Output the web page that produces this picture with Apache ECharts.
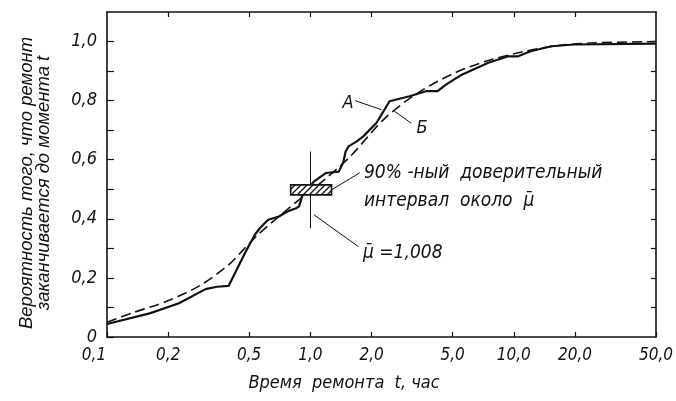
<!DOCTYPE html>
<html><head><meta charset="utf-8">
<script src="https://cdn.jsdelivr.net/npm/echarts@6/dist/echarts.min.js"></script>
<style>html,body{margin:0;padding:0;background:#fff}#c{width:676px;height:401px}</style>
</head><body><div id="c"></div><script>
// ---- data ----
const xTickValues = [0.1, 0.2, 0.5, 1, 2, 5, 10, 20, 50];
const xTickLabels = ['0,1', '0,2', '0,5', '1,0', '2,0', '5,0', '10,0', '20,0', '50,0'];
const yTickValues = [0, 0.2, 0.4, 0.6, 0.8, 1.0];
const yTickLabels = ['0', '0,2', '0,4', '0,6', '0,8', '1,0'];
const yMinorTicks = [0, 0.1, 0.2, 0.3, 0.4, 0.5, 0.6, 0.7, 0.8, 0.9, 1.0];

// curve A (empirical, solid)
const aTimes = [0.1, 0.162, 0.226, 0.305, 0.347, 0.396, 0.477, 0.533, 0.564, 0.62, 0.70, 0.77, 0.85, 0.88, 0.91, 1.04, 1.19, 1.38, 1.45, 1.49, 1.54, 1.69, 1.82, 2.11, 2.45, 3.07, 3.70, 4.22, 4.64, 5.55, 7.5, 9.4, 10.5, 12.1, 15.3, 19.8, 50];
const aProb  = [0.044, 0.080, 0.114, 0.162, 0.170, 0.173, 0.284, 0.346, 0.368, 0.397, 0.408, 0.425, 0.436, 0.442, 0.476, 0.526, 0.555, 0.560, 0.591, 0.628, 0.645, 0.662, 0.679, 0.724, 0.798, 0.815, 0.832, 0.832, 0.854, 0.888, 0.928, 0.950, 0.950, 0.967, 0.984, 0.990, 0.993];
// curve Б (fitted, dashed)
const bTimes = [0.1, 0.134, 0.195, 0.283, 0.396, 0.476, 0.552, 0.64, 0.86, 1.17, 1.57, 2.29, 3.30, 4.98, 7.27, 11.3, 16.4, 23.8, 50];
const bProb  = [0.050, 0.082, 0.120, 0.172, 0.244, 0.301, 0.346, 0.385, 0.459, 0.532, 0.611, 0.736, 0.822, 0.890, 0.933, 0.967, 0.986, 0.995, 1.0];

// annotations (data coordinates)
const muValue = 1.0;
const muLine = [0.368, 0.628];
const ciBox = [0.80, 1.27, 0.481, 0.515]; // t0, t1, p0, p1

const FONT = "'Liberation Sans Narrow','DejaVu Sans Condensed','Liberation Sans',sans-serif";
const FONTW = "'Liberation Sans','Arimo',sans-serif";
const ink = '#111';

function nearestLog(v, vals, labels) {
  let best = 0, bd = Infinity;
  vals.forEach((x, i) => { const d = Math.abs(Math.log(v / x)); if (d < bd) { bd = d; best = i; } });
  return labels[best];
}
function nearestLin(v, vals, labels) {
  let best = 0, bd = Infinity;
  vals.forEach((x, i) => { const d = Math.abs(v - x); if (d < bd) { bd = d; best = i; } });
  return labels[best];
}

// hatch pattern
const pc = document.createElement('canvas'); pc.width = 6; pc.height = 6;
const g = pc.getContext('2d');
g.fillStyle = '#fff'; g.fillRect(0, 0, 6, 6);
g.strokeStyle = ink; g.lineWidth = 1.3;
g.beginPath(); g.moveTo(0, 6); g.lineTo(6, 0); g.moveTo(-3, 3); g.lineTo(3, -3); g.moveTo(3, 9); g.lineTo(9, 3); g.stroke();

const chart = echarts.init(document.getElementById('c'), null, { renderer: 'canvas' });

const axisLineStyle = { color: ink, width: 1.6 };

chart.setOption({
  animation: false,
  backgroundColor: '#fff',
  grid: { left: 107, right: 15, top: 12, bottom: 64, containLabel: false },
  xAxis: [
    {
      type: 'log', logBase: 10, min: 0.1, max: 50, position: 'bottom',
      axisLine: { show: true, onZero: false, lineStyle: axisLineStyle },
      axisTick: { show: true, inside: true, length: 5, lineStyle: { color: ink, width: 1.2 }, customValues: xTickValues },
      minorTick: { show: false },
      splitLine: { show: false },
      axisLabel: {
        customValues: xTickValues, margin: 10, color: ink, fontFamily: FONT, fontStyle: 'italic', fontSize: 17,
        formatter: v => {
          const s = nearestLog(v, xTickValues, xTickLabels);
          return s === '0,1' ? '{f|' + s + '}' : s;
        },
        rich: { f: { fontFamily: FONT, fontStyle: 'italic', fontSize: 17, color: ink, padding: [0, 26, 0, 0] } }
      }
    },
    {
      type: 'log', logBase: 10, min: 0.1, max: 50, position: 'top',
      axisLine: { show: true, onZero: false, lineStyle: axisLineStyle },
      axisTick: { show: true, inside: true, length: 5, lineStyle: { color: ink, width: 1.2 }, customValues: xTickValues.slice(1, -1) },
      splitLine: { show: false },
      axisLabel: { show: false }
    }
  ],
  yAxis: [
    {
      type: 'value', min: 0, max: 1.1, position: 'left',
      axisLine: { show: true, onZero: false, lineStyle: axisLineStyle },
      axisTick: { show: true, inside: true, length: 7, lineStyle: { color: ink, width: 1.2 }, customValues: yMinorTicks },
      splitLine: { show: false },
      axisLabel: {
        customValues: yTickValues, margin: 10, color: ink, fontFamily: FONT, fontStyle: 'italic', fontSize: 18,
        formatter: v => nearestLin(v, yTickValues, yTickLabels)
      }
    },
    {
      type: 'value', min: 0, max: 1.1, position: 'right',
      axisLine: { show: true, onZero: false, lineStyle: axisLineStyle },
      axisTick: { show: true, inside: true, length: 5, lineStyle: { color: ink, width: 1.2 }, customValues: yMinorTicks.slice(1) },
      splitLine: { show: false },
      axisLabel: { show: false }
    }
  ],
  series: [
    {
      name: 'Б', type: 'line', xAxisIndex: 0, yAxisIndex: 0, symbol: 'none', smooth: 0.3,
      data: bTimes.map((t, i) => [t, bProb[i]]),
      lineStyle: { color: ink, width: 1.6, type: [10, 5] }, z: 3
    },
    {
      name: 'A', type: 'line', xAxisIndex: 0, yAxisIndex: 0, symbol: 'none',
      data: aTimes.map((t, i) => [t, aProb[i]]),
      lineStyle: { color: ink, width: 2.2 }, z: 4
    },
    {
      name: 'annot', type: 'line', xAxisIndex: 0, yAxisIndex: 0, symbol: 'none', data: [],
      markLine: {
        silent: true, symbol: 'none', animation: false,
        label: { show: false },
        lineStyle: { color: ink, width: 1, type: 'solid' },
        data: [
          [{ coord: [muValue, muLine[0]] }, { coord: [muValue, muLine[1]] }],
          [{ coord: [1.27, 0.498] }, { coord: [1.75, 0.556] }],
          [{ coord: [1.04, 0.414] }, { coord: [1.72, 0.306] }],
          [{ coord: [1.66, 0.800] }, { coord: [2.24, 0.769] }],
          [{ coord: [2.59, 0.764] }, { coord: [3.13, 0.724] }]
        ]
      }, z: 5
    },
    {
      name: 'ci', type: 'custom', xAxisIndex: 0, yAxisIndex: 0,
      data: [ciBox],
      encode: { x: [0, 1], y: [2, 3] },
      renderItem: (params, api) => {
        const p0 = api.coord([api.value(0), api.value(3)]);
        const p1 = api.coord([api.value(1), api.value(2)]);
        return {
          type: 'rect',
          shape: { x: p0[0], y: p0[1], width: p1[0] - p0[0], height: p1[1] - p0[1] },
          style: { fill: { image: pc, repeat: 'repeat' }, stroke: ink, lineWidth: 1.6 }
        };
      }, z: 6
    }
  ],
  graphic: [
    { type: 'text', x: 348, y: 103, style: { text: 'A', font: 'italic 18px ' + FONT, fill: ink, align: 'center', verticalAlign: 'middle' } },
    { type: 'text', x: 422, y: 128, style: { text: 'Б', font: 'italic 18px ' + FONT, fill: ink, align: 'center', verticalAlign: 'middle' } },
    { type: 'text', x: 364, y: 173, style: { text: '90% -ный  доверительный', font: 'italic 19px ' + FONT, fill: ink, verticalAlign: 'middle' } },
    { type: 'text', x: 364, y: 201, style: { text: 'интервал  около  μ\u0304', font: 'italic 19px ' + FONT, fill: ink, verticalAlign: 'middle' } },
    { type: 'text', x: 363, y: 253, style: { text: 'μ\u0304 =1,008', font: 'italic 19px ' + FONT, fill: ink, verticalAlign: 'middle' } },
    { type: 'text', x: 344, y: 383, style: { text: 'Время  ремонта  t, час', font: 'italic 18px ' + FONT, fill: ink, align: 'center', verticalAlign: 'middle' } },
    { type: 'text', x: 35, y: 183, rotation: Math.PI / 2,
      style: { text: 'Вероятность того, что ремонт\nзаканчивается до момента t', font: 'italic 18.5px ' + FONTW, fill: ink, align: 'center', verticalAlign: 'middle', lineHeight: 17 } }
  ]
});
</script></body></html>
